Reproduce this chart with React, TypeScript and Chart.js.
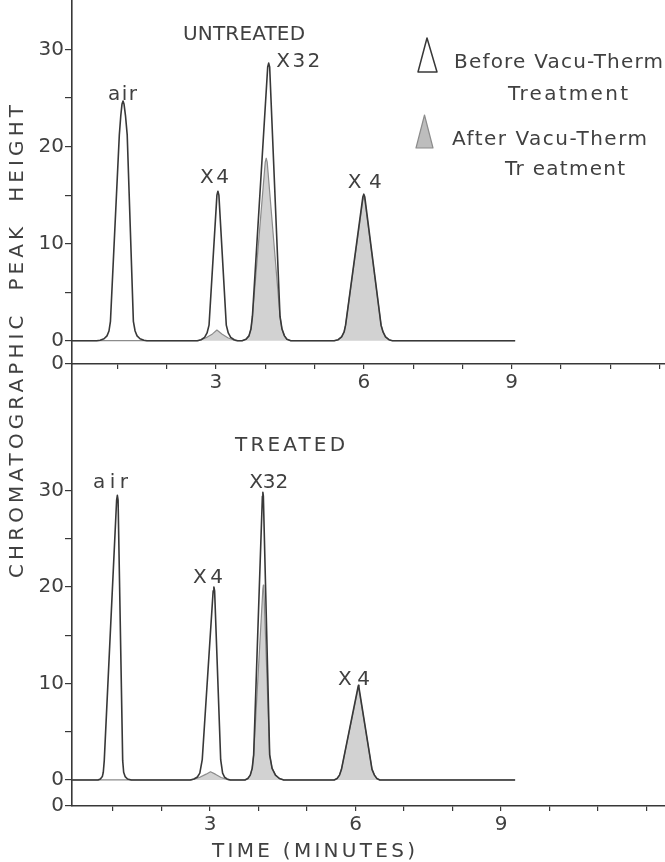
import React, { useEffect, useRef } from "react";
import { Chart, registerables } from "chart.js";

Chart.register(...registerables);

// ---------------- data ----------------
const minuteTicks = [1, 2, 3, 4, 5, 6, 7, 8, 9, 10, 11, 12];
const labelledMinutes = [3, 6, 9];
const heightTicks = [0, 5, 10, 15, 20, 25, 30];
const labelledHeights = [0, 10, 20, 30];

// UNTREATED panel (time in minutes, peak height)
const untreatedBeforeTime = [
  0.08, 0.58, 0.65, 0.73, 0.79, 0.83, 0.86, 1.04, 1.07, 1.095, 1.115, 1.135, 1.165, 1.2, 1.325, 1.36, 1.4, 1.46, 1.54, 1.6,
  2.62, 2.7, 2.77, 2.82, 2.86, 3.02, 3.04, 3.06, 3.21, 3.25, 3.3, 3.37, 3.44,
  3.53, 3.61, 3.67, 3.71, 3.74, 4.05, 4.07, 4.09, 4.3, 4.34, 4.39, 4.44, 4.52,
  5.4, 5.48, 5.55, 5.6, 5.63, 5.98, 6.0, 6.02, 6.35, 6.39, 6.44, 6.51, 6.58, 9.07,
];
const untreatedBeforeHeight = [
  0, 0, 0.05, 0.2, 0.5, 1.0, 2.0, 21.2, 23.2, 24.4, 24.7, 24.4, 23.2, 21.2, 2.0, 1.0, 0.5, 0.2, 0.05, 0,
  0, 0.1, 0.35, 0.8, 1.6, 15.0, 15.4, 15.0, 1.6, 0.8, 0.35, 0.1, 0,
  0, 0.15, 0.5, 1.2, 2.5, 28.2, 28.6, 28.2, 2.5, 1.2, 0.5, 0.15, 0,
  0, 0.1, 0.4, 0.9, 1.6, 14.8, 15.1, 14.8, 1.6, 0.9, 0.4, 0.1, 0, 0,
];
const untreatedAfterTime = [
  0.08, 2.64, 2.8, 2.93, 3.02, 3.12, 3.24, 3.4,
  3.53, 3.61, 3.67, 3.71, 3.74, 4.0, 4.02, 4.04, 4.3, 4.34, 4.39, 4.44, 4.52,
  5.4, 5.48, 5.55, 5.6, 5.63, 5.98, 6.0, 6.02, 6.35, 6.39, 6.44, 6.51, 6.58, 9.07,
];
const untreatedAfterHeight = [
  0, 0, 0.3, 0.7, 1.1, 0.7, 0.3, 0,
  0, 0.15, 0.5, 1.2, 2.5, 18.4, 18.8, 18.4, 2.5, 1.2, 0.5, 0.15, 0,
  0, 0.1, 0.4, 0.9, 1.6, 14.5, 14.8, 14.5, 1.6, 0.9, 0.4, 0.1, 0, 0,
];
const untreatedLabelText = ["UNTREATED", "air", "X4", "X32", "X4"];
const untreatedLabelTime = [3.57, 1.105, 2.97, 4.67, 6.02];
const untreatedLabelHeight = [31.0, 24.8, 16.2, 28.2, 15.7];

// TREATED panel
const treatedBeforeTime = [
  0.155, 0.69, 0.74, 0.78, 0.8, 0.82, 1.075, 1.09, 1.105, 1.2, 1.22, 1.25, 1.3, 1.38,
  2.59, 2.67, 2.74, 2.79, 2.84, 3.065, 3.08, 3.095, 3.22, 3.26, 3.3, 3.35, 3.42,
  3.72, 3.78, 3.83, 3.87, 3.9, 4.08, 4.09, 4.1, 4.23, 4.28, 4.35, 4.43, 4.52,
  5.56, 5.62, 5.67, 5.71, 6.05, 6.06, 6.07, 6.34, 6.39, 6.44, 6.5, 9.29,
];
const treatedBeforeHeight = [
  0, 0, 0.1, 0.35, 0.8, 2.0, 29.0, 29.5, 29.0, 2.0, 0.8, 0.35, 0.1, 0,
  0, 0.1, 0.3, 0.7, 2.1, 19.6, 20.0, 19.6, 2.1, 0.7, 0.3, 0.1, 0,
  0, 0.15, 0.5, 1.2, 2.6, 29.4, 29.8, 29.4, 2.6, 1.2, 0.5, 0.15, 0,
  0, 0.15, 0.5, 1.1, 9.6, 9.8, 9.6, 1.1, 0.5, 0.15, 0, 0,
];
const treatedAfterTime = [
  0.155, 2.62, 2.78, 2.92, 3.01, 3.11, 3.23, 3.38,
  3.72, 3.78, 3.83, 3.87, 3.9, 4.09, 4.1, 4.11, 4.23, 4.28, 4.35, 4.43, 4.52,
  5.56, 5.62, 5.67, 5.71, 6.05, 6.06, 6.07, 6.34, 6.39, 6.44, 6.5, 9.29,
];
const treatedAfterHeight = [
  0, 0, 0.25, 0.6, 0.85, 0.6, 0.25, 0,
  0, 0.15, 0.5, 1.2, 2.6, 19.8, 20.2, 19.8, 2.6, 1.2, 0.5, 0.15, 0,
  0, 0.15, 0.5, 1.1, 9.4, 9.6, 9.4, 1.1, 0.5, 0.15, 0, 0,
];
const treatedLabelText = ["TREATED", "air", "X4", "X32", "X4"];
const treatedLabelTime = [4.65, 0.95, 2.96, 4.21, 5.97];
const treatedLabelHeight = [34.1, 30.3, 20.4, 30.3, 9.8];

const legendText = ["Before Vacu-Therm", "Treatment", "After Vacu-Therm", "Tr eatment"];
const yTitle = "CHROMATOGRAPHIC  PEAK  HEIGHT";
const xTitle = "TIME (MINUTES)";

// ---------------- styles / layout ----------------
const FAMILY = '"DejaVu Sans", "Liberation Sans", sans-serif';
const TEXT = "#404040";
const LINE = "#383838";
const FILL = "#d2d2d2";
const FILL_EDGE = "#8c8c8c";
const W = 665;
const H = 862;
const TOP_SHIFT = 12; // top canvas is moved up so its plot area starts at the page top

const untreatedLabelWidth = [122, 29, 29, 44, 34];
const treatedLabelWidth = [110, 35, 30, 39, 32];
const legendLayout = [
  { x: 454, y: 68, w: 209 },
  { x: 508, y: 100, w: 120 },
  { x: 452, y: 145, w: 195 },
  { x: 505, y: 175, w: 120 },
];

function fitText(ctx: CanvasRenderingContext2D, text: string, left: number, baseline: number, width: number) {
  (ctx as any).letterSpacing = "0px";
  const w0 = ctx.measureText(text).width;
  const n = Array.from(text).length;
  const ls = n > 1 ? (width - w0) / (n - 1) : 0;
  (ctx as any).letterSpacing = ls + "px";
  ctx.textAlign = "left";
  ctx.textBaseline = "alphabetic";
  ctx.fillText(text, left, baseline);
  (ctx as any).letterSpacing = "0px";
}

type Panel = {
  beforeTime: number[];
  beforeHeight: number[];
  afterTime: number[];
  afterHeight: number[];
  labelText: string[];
  labelTime: number[];
  labelHeight: number[];
  labelWidth: number[];
  xMin: number;
  xMax: number;
  yMin: number;
  yMax: number;
  padTop: number;
  padBottom: number;
  xAxisHeight: number;
  extra: (ctx: CanvasRenderingContext2D, chart: any) => void;
};

const font20 = { family: FAMILY, size: 20, weight: "normal" as const };

function makeConfig(p: Panel): any {
  const pts = (xs: number[], ys: number[]) => xs.map((x, i) => ({ x, y: ys[i] }));
  return {
    type: "line",
    data: {
      datasets: [
        {
          label: "Before Vacu-Therm Treatment",
          data: pts(p.beforeTime, p.beforeHeight),
          borderColor: LINE,
          borderWidth: 1.6,
          borderJoinStyle: "round",
          fill: false,
          pointRadius: 0,
          tension: 0,
        },
        {
          label: "After Vacu-Therm Treatment",
          data: pts(p.afterTime, p.afterHeight),
          borderColor: FILL_EDGE,
          borderWidth: 1.2,
          borderJoinStyle: "round",
          backgroundColor: FILL,
          fill: "origin",
          pointRadius: 0,
          tension: 0,
        },
      ],
    },
    options: {
      responsive: false,
      animation: false,
      events: [],
      layout: { autoPadding: false, padding: { top: p.padTop, bottom: p.padBottom, left: 0, right: 0 } },
      plugins: { legend: { display: false }, tooltip: { enabled: false }, title: { display: false } },
      scales: {
        x: {
          type: "linear",
          min: p.xMin,
          max: p.xMax,
          afterBuildTicks: (s: any) => {
            s.ticks = minuteTicks.map((v) => ({ value: v }));
          },
          afterFit: (s: any) => {
            s.height = p.xAxisHeight;
          },
          ticks: {
            autoSkip: false,
            maxRotation: 0,
            padding: 2,
            color: TEXT,
            font: font20,
            callback: (v: number) => (labelledMinutes.includes(v) ? String(v) : ""),
          },
          grid: { drawOnChartArea: false, drawTicks: true, tickLength: 5, color: LINE, lineWidth: 1.2 },
          border: { display: true, color: LINE, width: 1.6 },
        },
        y: {
          type: "linear",
          min: p.yMin,
          max: p.yMax,
          afterBuildTicks: (s: any) => {
            s.ticks = [p.yMin, ...heightTicks].map((v) => ({ value: v }));
          },
          afterFit: (s: any) => {
            s.width = 72;
          },
          ticks: {
            autoSkip: false,
            padding: 1,
            color: TEXT,
            font: font20,
            callback: (v: number) => (v === p.yMin ? "0" : labelledHeights.includes(v) ? String(v) : ""),
          },
          grid: { drawOnChartArea: false, drawTicks: true, tickLength: 7, color: LINE, lineWidth: 1.2 },
          border: { display: true, color: LINE, width: 1.6 },
        },
      },
    },
    plugins: [
      {
        id: "annotations",
        afterDraw: (chart: any) => {
          const ctx: CanvasRenderingContext2D = chart.ctx;
          const xs = chart.scales.x;
          const ys = chart.scales.y;
          ctx.save();
          ctx.fillStyle = TEXT;
          ctx.font = `normal 20px ${FAMILY}`;
          p.labelText.forEach((t, i) => {
            const cx = xs.getPixelForValue(p.labelTime[i]);
            const by = ys.getPixelForValue(p.labelHeight[i]);
            const w = p.labelWidth[i];
            fitText(ctx, t, cx - w / 2, by, w);
          });
          p.extra(ctx, chart);
          ctx.restore();
        },
      },
    ],
  };
}

const topPanel: Panel = {
  beforeTime: untreatedBeforeTime,
  beforeHeight: untreatedBeforeHeight,
  afterTime: untreatedAfterTime,
  afterHeight: untreatedAfterHeight,
  labelText: untreatedLabelText,
  labelTime: untreatedLabelTime,
  labelHeight: untreatedLabelHeight,
  labelWidth: untreatedLabelWidth,
  xMin: 0.08,
  xMax: 12.11,
  yMin: -2.4,
  yMax: 35,
  padTop: 0,
  padBottom: H + TOP_SHIFT - (364 + TOP_SHIFT) - 36,
  xAxisHeight: 36,
  extra: (ctx) => {
    ctx.save();
    ctx.translate(0, TOP_SHIFT);
    // legend symbols
    ctx.lineWidth = 1.5;
    ctx.strokeStyle = LINE;
    ctx.lineJoin = "round";
    ctx.beginPath();
    ctx.moveTo(427, 38);
    ctx.lineTo(437, 72);
    ctx.lineTo(418, 72);
    ctx.closePath();
    ctx.stroke();
    ctx.beginPath();
    ctx.moveTo(424.5, 115);
    ctx.lineTo(433, 148);
    ctx.lineTo(416, 148);
    ctx.closePath();
    ctx.fillStyle = "#bdbdbd";
    ctx.fill();
    ctx.strokeStyle = FILL_EDGE;
    ctx.lineWidth = 1.2;
    ctx.stroke();
    ctx.fillStyle = TEXT;
    legendText.forEach((t, i) => {
      const l = legendLayout[i];
      fitText(ctx, t, l.x, l.y, l.w);
    });
    // y title (rotated)
    ctx.save();
    ctx.translate(23, 341.5);
    ctx.rotate(-Math.PI / 2);
    fitText(ctx, yTitle, -473 / 2, 0, 473);
    ctx.restore();
    ctx.restore();
  },
};

const bottomPanel: Panel = {
  beforeTime: treatedBeforeTime,
  beforeHeight: treatedBeforeHeight,
  afterTime: treatedAfterTime,
  afterHeight: treatedAfterHeight,
  labelText: treatedLabelText,
  labelTime: treatedLabelTime,
  labelHeight: treatedLabelHeight,
  labelWidth: treatedLabelWidth,
  xMin: 0.155,
  xMax: 12.38,
  yMin: -2.7,
  yMax: 43.1,
  padTop: 364,
  padBottom: 0,
  xAxisHeight: H - 806,
  extra: (ctx) => {
    ctx.fillStyle = TEXT;
    fitText(ctx, xTitle, 212, 857, 203);
  },
};

export default function App() {
  const topRef = useRef<HTMLCanvasElement>(null);
  const botRef = useRef<HTMLCanvasElement>(null);
  useEffect(() => {
    const b = new Chart(botRef.current as HTMLCanvasElement, makeConfig(bottomPanel));
    const a = new Chart(topRef.current as HTMLCanvasElement, makeConfig(topPanel));
    return () => {
      a.destroy();
      b.destroy();
    };
  }, []);
  const cs: React.CSSProperties = { position: "absolute", left: 0, top: 0, width: W, height: H };
  const csTop: React.CSSProperties = { position: "absolute", left: 0, top: -TOP_SHIFT, width: W, height: H + TOP_SHIFT };
  return (
    <div style={{ position: "absolute", left: 0, top: 0, width: W, height: H, background: "#ffffff", overflow: "hidden" }}>
      <canvas ref={botRef} width={W} height={H} style={cs} />
      <canvas ref={topRef} width={W} height={H + TOP_SHIFT} style={csTop} />
    </div>
  );
}
